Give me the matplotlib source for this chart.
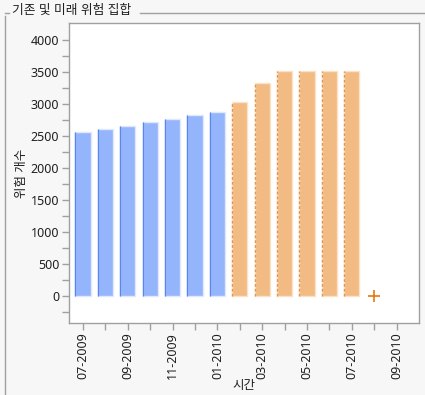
import matplotlib
matplotlib.use("Agg")
import matplotlib.pyplot as plt
from matplotlib.lines import Line2D
import numpy as np

plt.rcParams['font.family'] = ['Noto Sans', 'Noto Sans CJK KR', 'DejaVu Sans']

# Data
month_labels = ["07-2009", "08-2009", "09-2009", "10-2009", "11-2009", "12-2009",
                "01-2010", "02-2010", "03-2010", "04-2010", "05-2010", "06-2010",
                "07-2010", "08-2010", "09-2010"]
existing_months = ["07-2009", "08-2009", "09-2009", "10-2009", "11-2009", "12-2009", "01-2010"]
existing_values = [2560, 2615, 2665, 2715, 2770, 2825, 2875]
future_months = ["02-2010", "03-2010", "04-2010", "05-2010", "06-2010", "07-2010"]
future_values = [3040, 3325, 3520, 3520, 3520, 3520]
marker_month = "08-2010"
marker_value = 0

title = "기존 및 미래 위험 집합"
ylabel = "위험 개수"
xlabel = "시간"

idx = {m: i for i, m in enumerate(month_labels)}
xe = np.array([idx[m] for m in existing_months])
xf = np.array([idx[m] for m in future_months])

W, H = 425, 395
fig = plt.figure(figsize=(W / 100, H / 100), dpi=100, facecolor="#f7f7f7")
ax = fig.add_axes([69 / W, 1 - 323 / H, 350 / W, 300 / H], facecolor="white")

bw = 0.67
blue = "#94b4fc"
blue_edge = "#5a86f2"
orange = "#f2bb84"
orange_edge = "#e09550"

ax.bar(xe, existing_values, width=bw, color=blue, edgecolor="#dfe8fe", linewidth=1.0, zorder=2)
ax.vlines(xe - bw / 2, 0, existing_values, color=blue_edge, linewidth=1.0, zorder=3)
ax.bar(xf, future_values, width=bw, color=orange, edgecolor="#fbe2c6", linewidth=1.0, zorder=2)
ax.vlines(xf - bw / 2, 0, future_values, color=orange_edge, linewidth=1.0,
          linestyles=(0, (2, 1.5)), zorder=3)

ax.plot([idx[marker_month]], [marker_value], marker="+", color="#e8780a",
        markersize=8.5, markeredgewidth=1.2, linestyle="none", zorder=4)

ax.set_xlim(-0.625, 15.0)
ax.set_ylim(-420, 4270)

ax.set_yticks(np.arange(0, 4001, 500))
ax.set_yticks(np.arange(-250, 4001, 250), minor=True)
ax.set_xticks(np.arange(len(month_labels)))
ax.set_xticklabels([m if i % 2 == 0 else "" for i, m in enumerate(month_labels)],
                   rotation=90)

ax.tick_params(axis="both", which="both", direction="out", color="#a0a0a0",
               length=5, width=1, labelsize=9, labelcolor="#202020", pad=2)
for s in ax.spines.values():
    s.set_color("#a0a0a0")
    s.set_linewidth(1)

ax.set_ylabel(ylabel, fontsize=9, color="#202020", labelpad=2)
ax.set_xlabel(xlabel, fontsize=9, color="#202020", labelpad=0)

# outer panel frame and title
fig.text(12 / W, 1 - 10 / H, title, fontsize=9.2, color="#202020", va="center", ha="left")
fx = lambda p: p / W
fy = lambda p: 1 - p / H
fig.add_artist(Line2D([fx(4.5), fx(4.5)], [fy(16), fy(395)], color="#a0a0a0", lw=1))
fig.add_artist(Line2D([fx(5), fx(9)], [fy(12.5), fy(12.5)], color="#a0a0a0", lw=1))
fig.add_artist(Line2D([fx(140), fx(425)], [fy(12.5), fy(12.5)], color="#a0a0a0", lw=1))

fig.savefig("out.png", dpi=100, facecolor=fig.get_facecolor())
